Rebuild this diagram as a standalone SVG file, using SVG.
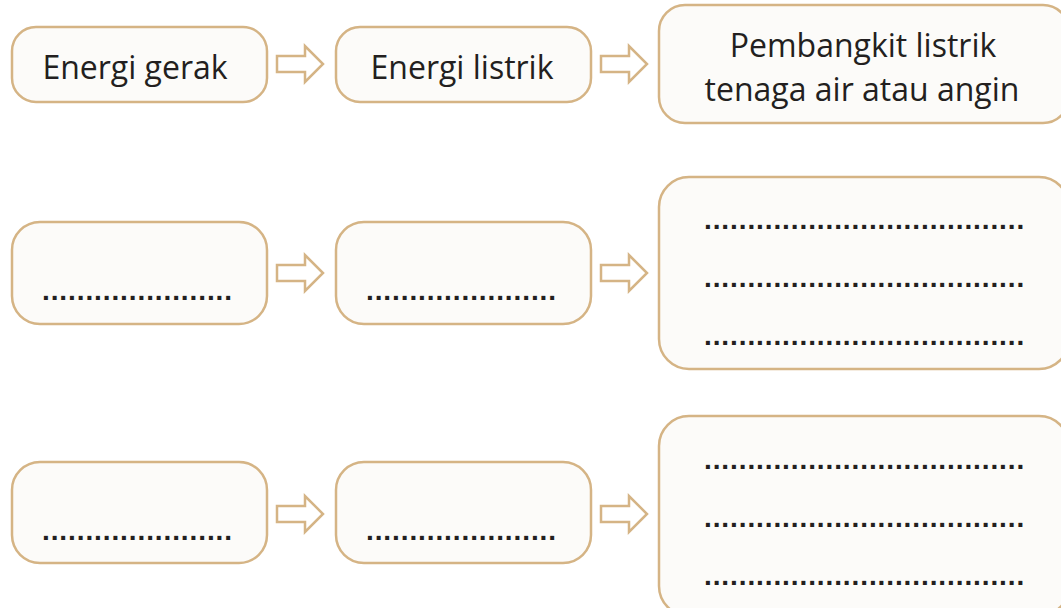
<svg xmlns="http://www.w3.org/2000/svg" width="1061" height="608" viewBox="0 0 1061 608">
<style>
.box{fill:#fcfbf9;stroke:#d5b485;stroke-width:2.5}
.arr{fill:#ffffff;stroke:#d5b485;stroke-width:2.5;stroke-linejoin:miter}
.t{font-family:"Open Sans","Liberation Sans",sans-serif;font-size:32px;fill:#231f20;text-anchor:middle}
.d{font-family:"Liberation Sans",sans-serif;font-size:28px;fill:#231f20;letter-spacing:0.9px;font-weight:bold}
</style>
<defs>
<path id="arrow" d="M0,-8 H28 V-18 L46,0 L28,18 V8 H0 Z"/>
</defs>
<rect width="1061" height="608" fill="#ffffff"/>
<g id="connectors">
<use href="#arrow" class="arr" x="277" y="64"/>
<use href="#arrow" class="arr" x="601" y="64"/>
<use href="#arrow" class="arr" x="277" y="273"/>
<use href="#arrow" class="arr" x="601" y="273"/>
<use href="#arrow" class="arr" x="277" y="514"/>
<use href="#arrow" class="arr" x="601" y="514"/>
</g>
<g id="n1"><rect class="box" x="12" y="27" width="255" height="75" rx="24"/><text class="t" x="135" y="79">Energi gerak</text></g>
<g id="n2"><rect class="box" x="336" y="27" width="255" height="75" rx="24"/><text class="t" x="462" y="79">Energi listrik</text></g>
<g id="n3"><rect class="box" x="659" y="5" width="410" height="118" rx="26"/><text class="t" x="863" y="57">Pembangkit listrik</text><text class="t" x="862" y="101">tenaga air atau angin</text></g>
<g id="n4"><rect class="box" x="12" y="222" width="255" height="102" rx="28"/><text class="d" x="42" y="300">......................</text></g>
<g id="n5"><rect class="box" x="336" y="222" width="255" height="102" rx="28"/><text class="d" x="366" y="300">......................</text></g>
<g id="n6"><rect class="box" x="659" y="177" width="410" height="192" rx="30"/><text class="d" x="704" y="229">.....................................</text><text class="d" x="704" y="287">.....................................</text><text class="d" x="704" y="345">.....................................</text></g>
<g id="n7"><rect class="box" x="12" y="462" width="255" height="101" rx="28"/><text class="d" x="42" y="540">......................</text></g>
<g id="n8"><rect class="box" x="336" y="462" width="255" height="101" rx="28"/><text class="d" x="366" y="540">......................</text></g>
<g id="n9"><rect class="box" x="659" y="416" width="410" height="200" rx="30"/><text class="d" x="704" y="469">.....................................</text><text class="d" x="704" y="527">.....................................</text><text class="d" x="704" y="585">.....................................</text></g>
</svg>
